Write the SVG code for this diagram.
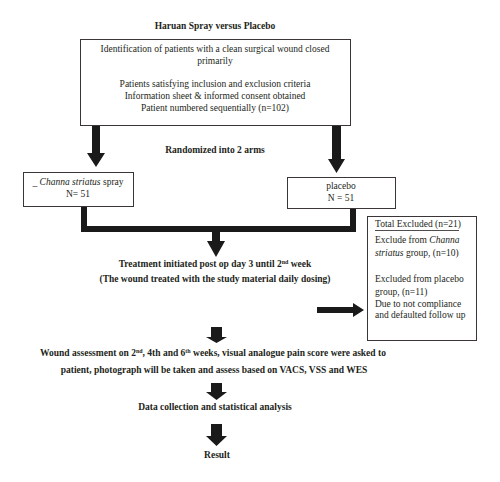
<svg xmlns="http://www.w3.org/2000/svg" width="500" height="482" viewBox="0 0 500 482">
<style>
.t{font-family:"Liberation Serif","Times New Roman",serif;font-size:9.5px;fill:#231f20}
.b{font-weight:bold}
.c{text-anchor:middle}
.box{fill:#fff;stroke:#3a3536;stroke-width:1}
.con{fill:#1a1a1a}
.sup{font-size:6px}
</style>
<rect width="500" height="482" fill="#fff"/>
<g id="title"><text class="t b c" x="215" y="29">Haruan Spray versus Placebo</text></g>
<g id="box-identification">
<rect class="box" x="80.5" y="39.5" width="270" height="86"/>
<text class="t c" x="215" y="52">Identification of patients with a clean surgical wound closed</text>
<text class="t c" x="215" y="64">primarily</text>
<text class="t c" x="215" y="87">Patients satisfying inclusion and exclusion criteria</text>
<text class="t c" x="215" y="99">Information sheet &amp; informed consent obtained</text>
<text class="t c" x="215" y="111">Patient numbered sequentially (n=102)</text>
</g>
<g id="label-randomized"><text class="t b c" x="215" y="153">Randomized into 2 arms</text></g>
<g id="box-channa">
<rect class="box" x="23.5" y="172.5" width="110" height="34"/>
<text class="t c" x="78" y="185">_ <tspan font-style="italic">Channa striatus</tspan> spray</text>
<text class="t c" x="78" y="197">N= 51</text>
</g>
<g id="box-placebo">
<rect class="box" x="287.5" y="177.5" width="108" height="31"/>
<text class="t c" x="341" y="189">placebo</text>
<text class="t c" x="341" y="201">N = 51</text>
</g>
<g id="label-treatment">
<text class="t b c" x="215" y="267">Treatment initiated post op day 3 until 2<tspan class="sup" dy="-3.5">nd</tspan><tspan dy="3.5"> week</tspan></text>
<text class="t b c" x="215" y="282">(The wound treated with the study material daily dosing)</text>
</g>
<g id="box-excluded">
<rect class="box" x="367.5" y="216.5" width="109" height="124"/>
<text class="t" x="375" y="227">Total Excluded (n=21)</text>
<line x1="375" y1="230.5" x2="459" y2="230.5" stroke="#231f20" stroke-width="0.8"/>
<text class="t" x="375" y="243">Exclude from <tspan font-style="italic">Channa</tspan></text>
<text class="t" x="375" y="256"><tspan font-style="italic">striatus</tspan> group, (n=10)</text>
<text class="t" x="375" y="282">Excluded from placebo</text>
<text class="t" x="375" y="295">group, (n=11)</text>
<text class="t" x="375" y="307">Due to not compliance</text>
<text class="t" x="375" y="318">and defaulted follow up</text>
</g>
<g id="label-assessment">
<text class="t b c" x="213" y="356">Wound assessment on 2<tspan class="sup" dy="-3.5">nd</tspan><tspan dy="3.5">, 4th and 6</tspan><tspan class="sup" dy="-3.5">th</tspan><tspan dy="3.5"> weeks, visual analogue pain score were asked to</tspan></text>
<text class="t b c" x="214" y="373">patient, photograph will be taken and assess based on VACS, VSS and WES</text>
</g>
<g id="label-data"><text class="t b c" x="215" y="410">Data collection and statistical analysis</text></g>
<g id="label-result"><text class="t b c" x="217" y="458">Result</text></g>
<g id="connectors">
<path class="con" d="M92,126 H100 V153 H105 L96,167 L87,153 H92 Z"/>
<path class="con" d="M332,126 H341 V159 H345 L336.5,173 L328,159 H332 Z"/>
<path class="con" d="M81,207 H87 V226 H350 V209 H356 V232 H220 V241 H225 L216,257 L207,241 H212 V232 H81 Z"/>
<path class="con" d="M317,307 H353 V303 L364,310 L353,317 V313 H317 Z"/>
<path class="con" d="M211,327 H222 V337 H227 L216.5,343 L206,337 H211 Z"/>
<path class="con" d="M211,383 H222 V392 H227 L216.5,400 L206,392 H211 Z"/>
<path class="con" d="M211,424 H222 V436 H227 L216.5,446 L206,436 H211 Z"/>
</g>
</svg>
